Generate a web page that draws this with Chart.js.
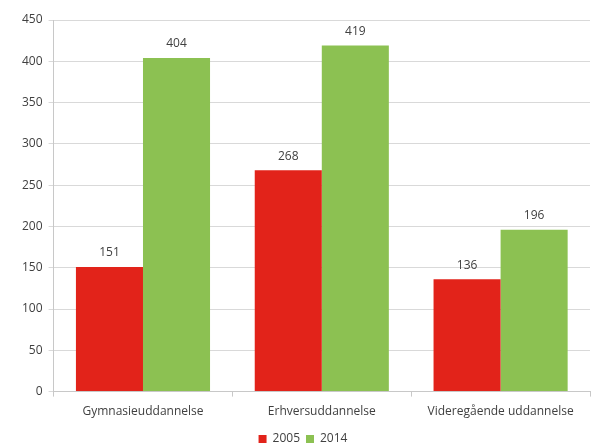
<!DOCTYPE html>
<html>
<head>
    <meta charset="utf-8">
    <title>Uddannelse 2005 / 2014</title>
    <style>
        body { margin: 0; background: #fff; font-family: "Open Sans", sans-serif; }
        #wrap { width: 594px; height: 447px; position: relative; }
    </style>
</head>
<body>
    <div id="wrap"><canvas id="chart"></canvas></div>
    <script src="https://cdn.jsdelivr.net/npm/chart.js"></script>
    <script>
        const categories = ['Gymnasieuddannelse', 'Erhversuddannelse', 'Videregående uddannelse'];
        const values2005 = [151, 268, 136];
        const values2014 = [404, 419, 196];
        const seriesLabels = ['2005', '2014'];

        const font = { size: 12, family: '"Open Sans", sans-serif' };
        const textColor = '#404040';

        // draws the number above each bar
        const barValues = {
            id: 'barValues',
            afterDatasetsDraw(chart) {
                const ctx = chart.ctx;
                ctx.save();
                ctx.font = '12px "Open Sans", sans-serif';
                ctx.fillStyle = textColor;
                ctx.textAlign = 'center';
                ctx.textBaseline = 'bottom';
                chart.data.datasets.forEach((ds, i) => {
                    chart.getDatasetMeta(i).data.forEach((bar, j) => {
                        ctx.fillText(ds.data[j], bar.x, bar.y - 8);
                    });
                });
                ctx.restore();
            }
        };

        new Chart(document.getElementById('chart'), {
            type: 'bar',
            data: {
                labels: categories,
                datasets: [
                    { label: seriesLabels[0], data: values2005, backgroundColor: '#e2231a' },
                    { label: seriesLabels[1], data: values2014, backgroundColor: '#8cc152' }
                ]
            },
            options: {
                responsive: true,
                maintainAspectRatio: false,
                animation: false,
                layout: { padding: { left: 16, right: 4, top: 20, bottom: -8 } },
                datasets: { bar: { categoryPercentage: 0.75, barPercentage: 1 } },
                plugins: {
                    legend: {
                        position: 'bottom',
                        labels: { boxWidth: 8, boxHeight: 8, padding: 6, color: textColor, font: font }
                    },
                    tooltip: { enabled: false }
                },
                scales: {
                    x: {
                        grid: { drawOnChartArea: false, color: '#c8c8c8', tickLength: 5, offset: true },
                        border: { color: '#c8c8c8' },
                        ticks: { color: textColor, font: font, padding: 8 }
                    },
                    y: {
                        min: 0, max: 450,
                        ticks: { stepSize: 50, color: textColor, font: font, padding: 6 },
                        grid: { color: '#d9d9d9', tickLength: 5 },
                        border: { color: '#c8c8c8' }
                    }
                }
            },
            plugins: [barValues]
        });
    </script>
</body>
</html>
